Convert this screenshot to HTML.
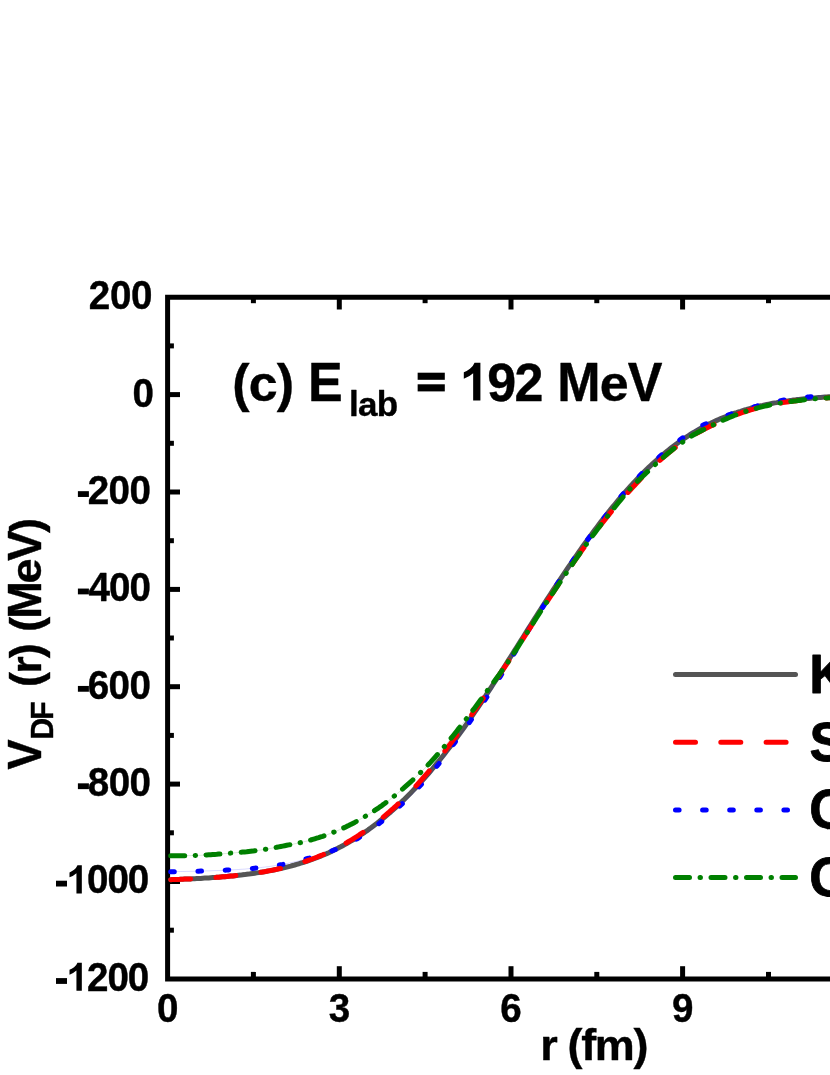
<!DOCTYPE html>
<html><head><meta charset="utf-8"><title>chart</title>
<style>html,body{margin:0;padding:0;background:#fff;}svg{display:block;will-change:transform;}</style></head>
<body>
<svg width="830" height="1075" viewBox="0 0 830 1075">
<rect width="830" height="1075" fill="#fff"/>
<defs><clipPath id="qc"><rect x="-5" y="-60" width="80" height="60.9"/></clipPath></defs>
<g stroke="#000" stroke-width="5" fill="none" stroke-linecap="butt">
<path d="M835 297.3H167.6V978.9H835"/>
<path d="M167.6 394.6H180"/>
<path d="M167.6 492.0H180"/>
<path d="M167.6 589.4H180"/>
<path d="M167.6 686.7H180"/>
<path d="M167.6 784.1H180"/>
<path d="M167.6 881.5H180"/>
<path d="M167.6 345.9H173.9"/>
<path d="M167.6 443.3H173.9"/>
<path d="M167.6 540.7H173.9"/>
<path d="M167.6 638.0H173.9"/>
<path d="M167.6 735.4H173.9"/>
<path d="M167.6 832.8H173.9"/>
<path d="M167.6 930.2H173.9"/>
<path d="M339.3 978.9V966.2"/>
<path d="M339.3 297.3V309.5"/>
<path d="M511.0 978.9V966.2"/>
<path d="M511.0 297.3V309.5"/>
<path d="M682.6 978.9V966.2"/>
<path d="M682.6 297.3V309.5"/>
<path d="M253.4 978.9V971.9"/>
<path d="M253.4 297.3V303.2"/>
<path d="M425.1 978.9V971.9"/>
<path d="M425.1 297.3V303.2"/>
<path d="M596.8 978.9V971.9"/>
<path d="M596.8 297.3V303.2"/>
<path d="M768.5 978.9V971.9"/>
<path d="M768.5 297.3V303.2"/>
</g>
<g fill="none" stroke-width="5" stroke-linecap="round" stroke-linejoin="round">
<polyline stroke="#555555" points="170.7,879.7 172.7,879.6 174.7,879.5 176.7,879.5 178.7,879.4 180.7,879.3 182.7,879.2 184.7,879.1 186.7,879.1 188.7,879.0 190.7,878.9 192.7,878.8 194.7,878.7 196.7,878.6 198.7,878.5 200.7,878.4 202.7,878.2 204.7,878.1 206.7,878.0 208.7,877.9 210.7,877.7 212.7,877.6 214.7,877.5 216.7,877.3 218.7,877.2 220.7,877.0 222.7,876.8 224.7,876.7 226.7,876.5 228.7,876.3 230.7,876.1 232.7,875.9 234.7,875.7 236.7,875.5 238.7,875.3 240.7,875.1 242.7,874.8 244.7,874.6 246.7,874.3 248.7,874.1 250.7,873.8 252.7,873.5 254.7,873.2 256.7,872.9 258.7,872.6 260.7,872.3 262.7,872.0 264.7,871.7 266.7,871.3 268.7,870.9 270.7,870.6 272.7,870.2 274.7,869.8 276.7,869.4 278.7,868.9 280.7,868.5 282.7,868.0 284.7,867.6 286.7,867.1 288.7,866.6 290.7,866.1 292.7,865.5 294.7,865.0 296.7,864.4 298.7,863.8 300.7,863.2 302.7,862.6 304.7,862.0 306.7,861.3 308.7,860.6 310.7,859.9 312.7,859.2 314.7,858.5 316.7,857.7 318.7,856.9 320.7,856.1 322.7,855.3 324.7,854.4 326.7,853.6 328.7,852.7 330.7,851.7 332.7,850.8 334.7,849.8 336.7,848.9 338.7,847.8 340.7,846.8 342.7,845.7 344.7,844.6 346.7,843.5 348.7,842.4 350.7,841.2 352.7,840.0 354.7,838.8 356.7,837.5 358.7,836.3 360.7,834.9 362.7,833.6 364.7,832.3 366.7,830.9 368.7,829.4 370.7,828.0 372.7,826.5 374.7,825.0 376.7,823.5 378.7,821.9 380.7,820.3 382.7,818.7 384.7,817.1 386.7,815.4 388.7,813.7 390.7,812.0 392.7,810.2 394.7,808.4 396.7,806.6 398.7,804.7 400.7,802.8 402.7,800.9 404.7,799.0 406.7,797.0 408.7,795.0 410.7,793.0 412.7,790.9 414.7,788.8 416.7,786.7 418.7,784.5 420.7,782.3 422.7,780.1 424.7,777.8 426.7,775.6 428.7,773.3 430.7,770.9 432.7,768.5 434.7,766.1 436.7,763.7 438.7,761.3 440.7,758.8 442.7,756.2 444.7,753.7 446.7,751.1 448.7,748.5 450.7,745.9 452.7,743.2 454.7,740.5 456.7,737.8 458.7,735.1 460.7,732.3 462.7,729.5 464.7,726.7 466.7,723.8 468.7,721.0 470.7,718.1 472.7,715.2 474.7,712.2 476.7,709.3 478.7,706.3 480.7,703.3 482.7,700.3 484.7,697.3 486.7,694.2 488.7,691.2 490.7,688.1 492.7,685.0 494.7,681.9 496.7,678.8 498.7,675.7 500.7,672.5 502.7,669.4 504.7,666.2 506.7,663.1 508.7,659.9 510.7,656.7 512.7,653.6 514.7,650.4 516.7,647.2 518.7,644.0 520.7,640.9 522.7,637.7 524.7,634.5 526.7,631.3 528.7,628.2 530.7,625.0 532.7,621.8 534.7,618.7 536.7,615.5 538.7,612.4 540.7,609.3 542.7,606.2 544.7,603.0 546.7,599.9 548.7,596.9 550.7,593.8 552.7,590.7 554.7,587.7 556.7,584.6 558.7,581.6 560.7,578.6 562.7,575.6 564.7,572.6 566.7,569.6 568.7,566.7 570.7,563.8 572.7,560.8 574.7,557.9 576.7,555.1 578.7,552.2 580.7,549.4 582.7,546.5 584.7,543.7 586.7,541.0 588.7,538.2 590.7,535.5 592.7,532.8 594.7,530.1 596.7,527.4 598.7,524.7 600.7,522.1 602.7,519.5 604.7,517.0 606.7,514.4 608.7,511.9 610.7,509.4 612.7,506.9 614.7,504.5 616.7,502.1 618.7,499.7 620.7,497.3 622.7,495.0 624.7,492.7 626.7,490.4 628.7,488.2 630.7,485.9 632.7,483.8 634.7,481.6 636.7,479.5 638.7,477.4 640.7,475.3 642.7,473.3 644.7,471.3 646.7,469.3 648.7,467.4 650.7,465.5 652.7,463.6 654.7,461.8 656.7,460.0 658.7,458.2 660.7,456.5 662.7,454.8 664.7,453.1 666.7,451.5 668.7,449.9 670.7,448.3 672.7,446.7 674.7,445.2 676.7,443.7 678.7,442.3 680.7,440.9 682.7,439.5 684.7,438.1 686.7,436.8 688.7,435.5 690.7,434.2 692.7,433.0 694.7,431.8 696.7,430.6 698.7,429.5 700.7,428.3 702.7,427.3 704.7,426.2 706.7,425.1 708.7,424.1 710.7,423.2 712.7,422.2 714.7,421.3 716.7,420.4 718.7,419.5 720.7,418.6 722.7,417.8 724.7,417.0 726.7,416.2 728.7,415.4 730.7,414.7 732.7,413.9 734.7,413.2 736.7,412.6 738.7,411.9 740.7,411.3 742.7,410.6 744.7,410.0 746.7,409.5 748.7,408.9 750.7,408.3 752.7,407.8 754.7,407.3 756.7,406.8 758.7,406.3 760.7,405.8 762.7,405.4 764.7,404.9 766.7,404.5 768.7,404.1 770.7,403.7 772.7,403.3 774.7,402.9 776.7,402.6 778.7,402.2 780.7,401.9 782.7,401.6 784.7,401.2 786.7,400.9 788.7,400.7 790.7,400.4 792.7,400.1 794.7,399.9 796.7,399.6 798.7,399.4 800.7,399.2 802.7,399.0 804.7,398.8 806.7,398.6 808.7,398.4 810.7,398.2 812.7,398.0 814.7,397.9 816.7,397.7 818.7,397.5 820.7,397.4 822.7,397.2 824.7,397.1 826.7,397.0 828.7,396.8 830.7,396.7 832.7,396.6 834.7,396.4 836.7,396.3 838.7,396.2 840.7,396.1 842.7,396.0 844.7,395.9"/>
<polyline stroke="#0000ff" stroke-width="0.5" stroke-opacity="0.3" points="170.7,871.7 172.7,871.7 174.7,871.7 176.7,871.6 178.7,871.6 180.7,871.5 182.7,871.5 184.7,871.5 186.7,871.4 188.7,871.4 190.7,871.3 192.7,871.3 194.7,871.3 196.7,871.2 198.7,871.2 200.7,871.1 202.7,871.0 204.7,871.0 206.7,870.9 208.7,870.9 210.7,870.8 212.7,870.7 214.7,870.6 216.7,870.6 218.7,870.5 220.7,870.4 222.7,870.3 224.7,870.2 226.7,870.1 228.7,870.0 230.7,869.9 232.7,869.8 234.7,869.7 236.7,869.6 238.7,869.5 240.7,869.3 242.7,869.2 244.7,869.1 246.7,868.9 248.7,868.7 250.7,868.6 252.7,868.4 254.7,868.2 256.7,868.0 258.7,867.8 260.7,867.6 262.7,867.3 264.7,867.1 266.7,866.8 268.7,866.6 270.7,866.3 272.7,866.0 274.7,865.7 276.7,865.4 278.7,865.1 280.7,864.7 282.7,864.4 284.7,864.0 286.7,863.6 288.7,863.2 290.7,862.7 292.7,862.3 294.7,861.8 296.7,861.4 298.7,860.9 300.7,860.4 302.7,859.9 304.7,859.3 306.7,858.8 308.7,858.3 310.7,857.7 312.7,857.1 314.7,856.6 316.7,856.0 318.7,855.4 320.7,854.8 322.7,854.2 324.7,853.5 326.7,852.8 328.7,852.1 330.7,851.4 332.7,850.6 334.7,849.8 336.7,849.0 338.7,848.1 340.7,847.2 342.7,846.3 344.7,845.4 346.7,844.4 348.7,843.4 350.7,842.4 352.7,841.3 354.7,840.2 356.7,839.0 358.7,837.8 360.7,836.5 362.7,835.3 364.7,833.9 366.7,832.6 368.7,831.2 370.7,829.8 372.7,828.3 374.7,826.9 376.7,825.4 378.7,823.8 380.7,822.3 382.7,820.7 384.7,819.1 386.7,817.5 388.7,815.8 390.7,814.1 392.7,812.4 394.7,810.6 396.7,808.8 398.7,807.0 400.7,805.2 402.7,803.3 404.7,801.5 406.7,799.6 408.7,797.6 410.7,795.6 412.7,793.6 414.7,791.6 416.7,789.5 418.7,787.3 420.7,785.1 422.7,782.9 424.7,780.6 426.7,778.4 428.7,776.1 430.7,773.7 432.7,771.3 434.7,768.9 436.7,766.5 438.7,764.0 440.7,761.4 442.7,758.8 444.7,756.1 446.7,753.5 448.7,750.8 450.7,748.1 452.7,745.4 454.7,742.7 456.7,740.0 458.7,737.3 460.7,734.6 462.7,731.8 464.7,729.0 466.7,726.2 468.7,723.4 470.7,720.6 472.7,717.7 474.7,714.9 476.7,712.1 478.7,709.2 480.7,706.3 482.7,703.4 484.7,700.4 486.7,697.4 488.7,694.4 490.7,691.3 492.7,688.3 494.7,685.2 496.7,682.1 498.7,678.9 500.7,675.8 502.7,672.6 504.7,669.3 506.7,666.0 508.7,662.7 510.7,659.4 512.7,656.1 514.7,652.7 516.7,649.4 518.7,646.1 520.7,642.8 522.7,639.6 524.7,636.3 526.7,633.0 528.7,629.8 530.7,626.6 532.7,623.3 534.7,620.1 536.7,616.9 538.7,613.7 540.7,610.5 542.7,607.3 544.7,604.1 546.7,600.9 548.7,597.7 550.7,594.4 552.7,591.2 554.7,588.1 556.7,584.9 558.7,581.8 560.7,578.7 562.7,575.6 564.7,572.6 566.7,569.6 568.7,566.7 570.7,563.8 572.7,560.8 574.7,557.9 576.7,555.1 578.7,552.2 580.7,549.4 582.7,546.5 584.7,543.7 586.7,541.0 588.7,538.2 590.7,535.5 592.7,532.8 594.7,530.1 596.7,527.4 598.7,524.7 600.7,522.1 602.7,519.5 604.7,516.9 606.7,514.3 608.7,511.7 610.7,509.1 612.7,506.5 614.7,504.0 616.7,501.6 618.7,499.2 620.7,496.8 622.7,494.4 624.7,492.1 626.7,489.8 628.7,487.6 630.7,485.4 632.7,483.2 634.7,481.0 636.7,478.9 638.7,476.8 640.7,474.7 642.7,472.7 644.7,470.7 646.7,468.7 648.7,466.7 650.7,464.8 652.7,463.0 654.7,461.1 656.7,459.3 658.7,457.4 660.7,455.6 662.7,453.9 664.7,452.1 666.7,450.4 668.7,448.6 670.7,447.0 672.7,445.3 674.7,443.8 676.7,442.2 678.7,440.7 680.7,439.2 682.7,437.8 684.7,436.4 686.7,435.0 688.7,433.7 690.7,432.3 692.7,431.1 694.7,429.8 696.7,428.6 698.7,427.5 700.7,426.4 702.7,425.3 704.7,424.4 706.7,423.6 708.7,422.8 710.7,422.1 712.7,421.3 714.7,420.5 716.7,419.6 718.7,418.7 720.7,417.9 722.7,417.1 724.7,416.3 726.7,415.6 728.7,414.8 730.7,414.1 732.7,413.3 734.7,412.6 736.7,412.0 738.7,411.3 740.7,410.7 742.7,410.0 744.7,409.4 746.7,408.9 748.7,408.3 750.7,407.7 752.7,407.2 754.7,406.6 756.7,406.1 758.7,405.5 760.7,405.0 762.7,404.5 764.7,404.0 766.7,403.5 768.7,403.1 770.7,402.6 772.7,402.2 774.7,401.8 776.7,401.4 778.7,401.0 780.7,400.6 782.7,400.3 784.7,400.0 786.7,399.6 788.7,399.3 790.7,399.0 792.7,398.7 794.7,398.5 796.7,398.2 798.7,398.0 800.7,397.7 802.7,397.5 804.7,397.3 806.7,397.1 808.7,396.9 810.7,396.7 812.7,396.5 814.7,396.4 816.7,396.2 818.7,396.0 820.7,395.9 822.7,395.7 824.7,395.6 826.7,395.5 828.7,395.3 830.7,395.2 832.7,395.1 834.7,394.9 836.7,394.8 838.7,394.7 840.7,394.6 842.7,394.5 844.7,394.4"/>
<polyline stroke="#008000" stroke-width="0.5" stroke-opacity="0.3" points="170.7,855.8 172.7,855.8 174.7,855.8 176.7,855.7 178.7,855.7 180.7,855.7 182.7,855.7 184.7,855.7 186.7,855.6 188.7,855.6 190.7,855.6 192.7,855.5 194.7,855.5 196.7,855.4 198.7,855.4 200.7,855.3 202.7,855.2 204.7,855.0 206.7,854.9 208.7,854.8 210.7,854.7 212.7,854.5 214.7,854.4 216.7,854.3 218.7,854.1 220.7,854.0 222.7,853.8 224.7,853.6 226.7,853.5 228.7,853.3 230.7,853.1 232.7,853.0 234.7,852.8 236.7,852.6 238.7,852.5 240.7,852.3 242.7,852.1 244.7,851.9 246.7,851.8 248.7,851.5 250.7,851.3 252.7,851.1 254.7,850.8 256.7,850.6 258.7,850.3 260.7,850.0 262.7,849.7 264.7,849.4 266.7,849.1 268.7,848.7 270.7,848.4 272.7,848.0 274.7,847.7 276.7,847.3 278.7,846.9 280.7,846.5 282.7,846.1 284.7,845.7 286.7,845.3 288.7,844.9 290.7,844.6 292.7,844.2 294.7,843.8 296.7,843.4 298.7,843.0 300.7,842.6 302.7,842.1 304.7,841.6 306.7,841.1 308.7,840.6 310.7,840.0 312.7,839.4 314.7,838.8 316.7,838.2 318.7,837.6 320.7,836.9 322.7,836.3 324.7,835.6 326.7,834.9 328.7,834.1 330.7,833.4 332.7,832.6 334.7,831.8 336.7,831.0 338.7,830.1 340.7,829.2 342.7,828.3 344.7,827.4 346.7,826.4 348.7,825.5 350.7,824.4 352.7,823.4 354.7,822.4 356.7,821.3 358.7,820.2 360.7,819.0 362.7,817.9 364.7,816.7 366.7,815.5 368.7,814.3 370.7,813.0 372.7,811.7 374.7,810.4 376.7,809.1 378.7,807.8 380.7,806.4 382.7,804.9 384.7,803.5 386.7,802.0 388.7,800.5 390.7,798.9 392.7,797.3 394.7,795.7 396.7,794.1 398.7,792.4 400.7,790.7 402.7,789.0 404.7,787.2 406.7,785.4 408.7,783.6 410.7,781.8 412.7,780.0 414.7,778.1 416.7,776.2 418.7,774.3 420.7,772.4 422.7,770.4 424.7,768.4 426.7,766.3 428.7,764.2 430.7,762.1 432.7,759.9 434.7,757.7 436.7,755.4 438.7,753.2 440.7,750.8 442.7,748.5 444.7,746.1 446.7,743.7 448.7,741.2 450.7,738.7 452.7,736.2 454.7,733.7 456.7,731.2 458.7,728.6 460.7,726.1 462.7,723.5 464.7,721.0 466.7,718.4 468.7,715.8 470.7,713.2 472.7,710.5 474.7,707.9 476.7,705.2 478.7,702.5 480.7,699.8 482.7,697.1 484.7,694.3 486.7,691.5 488.7,688.7 490.7,686.0 492.7,683.4 494.7,680.8 496.7,678.1 498.7,675.4 500.7,672.6 502.7,669.7 504.7,666.9 506.7,663.9 508.7,661.0 510.7,658.0 512.7,655.0 514.7,651.9 516.7,648.8 518.7,645.6 520.7,642.5 522.7,639.4 524.7,636.3 526.7,633.1 528.7,630.0 530.7,626.8 532.7,623.7 534.7,620.6 536.7,617.5 538.7,614.4 540.7,611.3 542.7,608.2 544.7,605.2 546.7,602.1 548.7,599.1 550.7,596.1 552.7,593.1 554.7,590.1 556.7,587.2 558.7,584.2 560.7,581.2 562.7,578.3 564.7,575.3 566.7,572.4 568.7,569.5 570.7,566.6 572.7,563.6 574.7,560.7 576.7,557.9 578.7,555.0 580.7,552.2 582.7,549.3 584.7,546.5 586.7,543.8 588.7,541.0 590.7,538.3 592.7,535.6 594.7,532.9 596.7,530.2 598.7,527.5 600.7,524.9 602.7,522.3 604.7,519.8 606.7,517.2 608.7,514.7 610.7,512.2 612.7,509.7 614.7,507.2 616.7,504.7 618.7,502.2 620.7,499.8 622.7,497.4 624.7,495.0 626.7,492.6 628.7,490.4 630.7,488.1 632.7,486.0 634.7,484.0 636.7,482.0 638.7,480.1 640.7,478.2 642.7,476.3 644.7,474.4 646.7,472.5 648.7,470.6 650.7,468.7 652.7,466.8 654.7,465.0 656.7,463.1 658.7,461.3 660.7,459.5 662.7,457.8 664.7,456.1 666.7,454.4 668.7,452.7 670.7,451.1 672.7,449.5 674.7,447.9 676.7,446.4 678.7,444.9 680.7,443.4 682.7,442.0 684.7,440.5 686.7,439.1 688.7,437.8 690.7,436.5 692.7,435.3 694.7,434.2 696.7,433.1 698.7,432.1 700.7,431.1 702.7,430.1 704.7,429.1 706.7,428.1 708.7,427.1 710.7,426.1 712.7,425.1 714.7,424.2 716.7,423.2 718.7,422.2 720.7,421.3 722.7,420.4 724.7,419.5 726.7,418.6 728.7,417.7 730.7,416.9 732.7,416.1 734.7,415.3 736.7,414.5 738.7,413.8 740.7,413.1 742.7,412.4 744.7,411.8 746.7,411.1 748.7,410.5 750.7,409.9 752.7,409.3 754.7,408.7 756.7,408.2 758.7,407.6 760.7,407.1 762.7,406.6 764.7,406.1 766.7,405.7 768.7,405.2 770.7,404.8 772.7,404.4 774.7,404.0 776.7,403.7 778.7,403.3 780.7,403.0 782.7,402.6 784.7,402.3 786.7,402.0 788.7,401.7 790.7,401.4 792.7,401.2 794.7,400.9 796.7,400.7 798.7,400.4 800.7,400.2 802.7,400.0 804.7,399.8 806.7,399.6 808.7,399.4 810.7,399.2 812.7,399.0 814.7,398.8 816.7,398.7 818.7,398.5 820.7,398.4 822.7,398.2 824.7,398.0 826.7,397.9 828.7,397.7 830.7,397.6 832.7,397.5 834.7,397.3 836.7,397.2 838.7,397.1 840.7,397.0 842.7,396.8 844.7,396.7"/>
<polyline stroke="#0000ff" stroke-dasharray="3.6 23.65" points="170.7,871.7 172.7,871.7 174.7,871.7 176.7,871.6 178.7,871.6 180.7,871.5 182.7,871.5 184.7,871.5 186.7,871.4 188.7,871.4 190.7,871.3 192.7,871.3 194.7,871.3 196.7,871.2 198.7,871.2 200.7,871.1 202.7,871.0 204.7,871.0 206.7,870.9 208.7,870.9 210.7,870.8 212.7,870.7 214.7,870.6 216.7,870.6 218.7,870.5 220.7,870.4 222.7,870.3 224.7,870.2 226.7,870.1 228.7,870.0 230.7,869.9 232.7,869.8 234.7,869.7 236.7,869.6 238.7,869.5 240.7,869.3 242.7,869.2 244.7,869.1 246.7,868.9 248.7,868.7 250.7,868.6 252.7,868.4 254.7,868.2 256.7,868.0 258.7,867.8 260.7,867.6 262.7,867.3 264.7,867.1 266.7,866.8 268.7,866.6 270.7,866.3 272.7,866.0 274.7,865.7 276.7,865.4 278.7,865.1 280.7,864.7 282.7,864.4 284.7,864.0 286.7,863.6 288.7,863.2 290.7,862.7 292.7,862.3 294.7,861.8 296.7,861.4 298.7,860.9 300.7,860.4 302.7,859.9 304.7,859.3 306.7,858.8 308.7,858.3 310.7,857.7 312.7,857.1 314.7,856.6 316.7,856.0 318.7,855.4 320.7,854.8 322.7,854.2 324.7,853.5 326.7,852.8 328.7,852.1 330.7,851.4 332.7,850.6 334.7,849.8 336.7,849.0 338.7,848.1 340.7,847.2 342.7,846.3 344.7,845.4 346.7,844.4 348.7,843.4 350.7,842.4 352.7,841.3 354.7,840.2 356.7,839.0 358.7,837.8 360.7,836.5 362.7,835.3 364.7,833.9 366.7,832.6 368.7,831.2 370.7,829.8 372.7,828.3 374.7,826.9 376.7,825.4 378.7,823.8 380.7,822.3 382.7,820.7 384.7,819.1 386.7,817.5 388.7,815.8 390.7,814.1 392.7,812.4 394.7,810.6 396.7,808.8 398.7,807.0 400.7,805.2 402.7,803.3 404.7,801.5 406.7,799.6 408.7,797.6 410.7,795.6 412.7,793.6 414.7,791.6 416.7,789.5 418.7,787.3 420.7,785.1 422.7,782.9 424.7,780.6 426.7,778.4 428.7,776.1 430.7,773.7 432.7,771.3 434.7,768.9 436.7,766.5 438.7,764.0 440.7,761.4 442.7,758.8 444.7,756.1 446.7,753.5 448.7,750.8 450.7,748.1 452.7,745.4 454.7,742.7 456.7,740.0 458.7,737.3 460.7,734.6 462.7,731.8 464.7,729.0 466.7,726.2 468.7,723.4 470.7,720.6 472.7,717.7 474.7,714.9 476.7,712.1 478.7,709.2 480.7,706.3 482.7,703.4 484.7,700.4 486.7,697.4 488.7,694.4 490.7,691.3 492.7,688.3 494.7,685.2 496.7,682.1 498.7,678.9 500.7,675.8 502.7,672.6 504.7,669.3 506.7,666.0 508.7,662.7 510.7,659.4 512.7,656.1 514.7,652.7 516.7,649.4 518.7,646.1 520.7,642.8 522.7,639.6 524.7,636.3 526.7,633.0 528.7,629.8 530.7,626.6 532.7,623.3 534.7,620.1 536.7,616.9 538.7,613.7 540.7,610.5 542.7,607.3 544.7,604.1 546.7,600.9 548.7,597.7 550.7,594.4 552.7,591.2 554.7,588.1 556.7,584.9 558.7,581.8 560.7,578.7 562.7,575.6 564.7,572.6 566.7,569.6 568.7,566.7 570.7,563.8 572.7,560.8 574.7,557.9 576.7,555.1 578.7,552.2 580.7,549.4 582.7,546.5 584.7,543.7 586.7,541.0 588.7,538.2 590.7,535.5 592.7,532.8 594.7,530.1 596.7,527.4 598.7,524.7 600.7,522.1 602.7,519.5 604.7,516.9 606.7,514.3 608.7,511.7 610.7,509.1 612.7,506.5 614.7,504.0 616.7,501.6 618.7,499.2 620.7,496.8 622.7,494.4 624.7,492.1 626.7,489.8 628.7,487.6 630.7,485.4 632.7,483.2 634.7,481.0 636.7,478.9 638.7,476.8 640.7,474.7 642.7,472.7 644.7,470.7 646.7,468.7 648.7,466.7 650.7,464.8 652.7,463.0 654.7,461.1 656.7,459.3 658.7,457.4 660.7,455.6 662.7,453.9 664.7,452.1 666.7,450.4 668.7,448.6 670.7,447.0 672.7,445.3 674.7,443.8 676.7,442.2 678.7,440.7 680.7,439.2 682.7,437.8 684.7,436.4 686.7,435.0 688.7,433.7 690.7,432.3 692.7,431.1 694.7,429.8 696.7,428.6 698.7,427.5 700.7,426.4 702.7,425.3 704.7,424.4 706.7,423.6 708.7,422.8 710.7,422.1 712.7,421.3 714.7,420.5 716.7,419.6 718.7,418.7 720.7,417.9 722.7,417.1 724.7,416.3 726.7,415.6 728.7,414.8 730.7,414.1 732.7,413.3 734.7,412.6 736.7,412.0 738.7,411.3 740.7,410.7 742.7,410.0 744.7,409.4 746.7,408.9 748.7,408.3 750.7,407.7 752.7,407.2 754.7,406.6 756.7,406.1 758.7,405.5 760.7,405.0 762.7,404.5 764.7,404.0 766.7,403.5 768.7,403.1 770.7,402.6 772.7,402.2 774.7,401.8 776.7,401.4 778.7,401.0 780.7,400.6 782.7,400.3 784.7,400.0 786.7,399.6 788.7,399.3 790.7,399.0 792.7,398.7 794.7,398.5 796.7,398.2 798.7,398.0 800.7,397.7 802.7,397.5 804.7,397.3 806.7,397.1 808.7,396.9 810.7,396.7 812.7,396.5 814.7,396.4 816.7,396.2 818.7,396.0 820.7,395.9 822.7,395.7 824.7,395.6 826.7,395.5 828.7,395.3 830.7,395.2 832.7,395.1 834.7,394.9 836.7,394.8 838.7,394.7 840.7,394.6 842.7,394.5 844.7,394.4"/>
<polyline stroke="#ff0000" stroke-dasharray="20 25.3" points="170.7,879.7 172.7,879.6 174.7,879.5 176.7,879.5 178.7,879.4 180.7,879.3 182.7,879.2 184.7,879.1 186.7,879.1 188.7,879.0 190.7,878.9 192.7,878.8 194.7,878.7 196.7,878.6 198.7,878.5 200.7,878.4 202.7,878.2 204.7,878.1 206.7,878.0 208.7,877.9 210.7,877.7 212.7,877.6 214.7,877.5 216.7,877.3 218.7,877.2 220.7,877.0 222.7,876.8 224.7,876.7 226.7,876.5 228.7,876.3 230.7,876.1 232.7,875.9 234.7,875.7 236.7,875.5 238.7,875.3 240.7,875.1 242.7,874.8 244.7,874.6 246.7,874.3 248.7,874.1 250.7,873.8 252.7,873.5 254.7,873.2 256.7,872.9 258.7,872.6 260.7,872.3 262.7,872.0 264.7,871.6 266.7,871.3 268.7,870.9 270.7,870.5 272.7,870.1 274.7,869.7 276.7,869.3 278.7,868.8 280.7,868.4 282.7,867.9 284.7,867.4 286.7,866.9 288.7,866.4 290.7,865.8 292.7,865.3 294.7,864.7 296.7,864.1 298.7,863.5 300.7,862.9 302.7,862.3 304.7,861.6 306.7,860.9 308.7,860.2 310.7,859.5 312.7,858.8 314.7,858.0 316.7,857.2 318.7,856.4 320.7,855.6 322.7,854.8 324.7,853.9 326.7,853.0 328.7,852.1 330.7,851.1 332.7,850.2 334.7,849.2 336.7,848.1 338.7,847.1 340.7,846.0 342.7,844.9 344.7,843.8 346.7,842.7 348.7,841.5 350.7,840.3 352.7,839.1 354.7,837.8 356.7,836.6 358.7,835.3 360.7,833.9 362.7,832.6 364.7,831.2 366.7,829.8 368.7,828.4 370.7,826.9 372.7,825.4 374.7,823.9 376.7,822.4 378.7,820.8 380.7,819.2 382.7,817.6 384.7,815.9 386.7,814.2 388.7,812.5 390.7,810.7 392.7,809.0 394.7,807.1 396.7,805.3 398.7,803.4 400.7,801.5 402.7,799.6 404.7,797.6 406.7,795.7 408.7,793.6 410.7,791.6 412.7,789.5 414.7,787.4 416.7,785.2 418.7,783.0 420.7,780.8 422.7,778.5 424.7,776.2 426.7,773.9 428.7,771.5 430.7,769.1 432.7,766.6 434.7,764.1 436.7,761.6 438.7,759.0 440.7,756.5 442.7,753.9 444.7,751.3 446.7,748.6 448.7,746.0 450.7,743.4 452.7,740.7 454.7,738.1 456.7,735.4 458.7,732.7 460.7,729.9 462.7,727.2 464.7,724.5 466.7,721.7 468.7,718.9 470.7,716.1 472.7,713.3 474.7,710.4 476.7,707.6 478.7,704.7 480.7,701.9 482.7,699.0 484.7,696.2 486.7,693.4 488.7,690.5 490.7,687.7 492.7,684.8 494.7,681.9 496.7,678.9 498.7,676.0 500.7,673.0 502.7,670.1 504.7,667.1 506.7,664.1 508.7,661.1 510.7,658.0 512.7,655.0 514.7,651.9 516.7,648.8 518.7,645.6 520.7,642.5 522.7,639.4 524.7,636.2 526.7,633.1 528.7,630.0 530.7,626.8 532.7,623.7 534.7,620.6 536.7,617.5 538.7,614.4 540.7,611.3 542.7,608.2 544.7,605.2 546.7,602.1 548.7,599.1 550.7,596.1 552.7,593.1 554.7,590.1 556.7,587.1 558.7,584.2 560.7,581.2 562.7,578.3 564.7,575.3 566.7,572.4 568.7,569.5 570.7,566.6 572.7,563.7 574.7,560.8 576.7,557.9 578.7,555.1 580.7,552.2 582.7,549.4 584.7,546.6 586.7,543.9 588.7,541.1 590.7,538.4 592.7,535.7 594.7,533.0 596.7,530.3 598.7,527.7 600.7,525.1 602.7,522.5 604.7,519.9 606.7,517.4 608.7,514.9 610.7,512.4 612.7,510.0 614.7,507.5 616.7,505.2 618.7,502.9 620.7,500.6 622.7,498.3 624.7,496.1 626.7,493.8 628.7,491.7 630.7,489.5 632.7,487.3 634.7,485.2 636.7,483.1 638.7,481.0 640.7,478.9 642.7,476.8 644.7,474.8 646.7,472.8 648.7,470.8 650.7,468.9 652.7,467.0 654.7,465.1 656.7,463.3 658.7,461.4 660.7,459.7 662.7,457.9 664.7,456.2 666.7,454.5 668.7,452.8 670.7,451.2 672.7,449.6 674.7,448.0 676.7,446.5 678.7,445.0 680.7,443.5 682.7,442.1 684.7,440.7 686.7,439.3 688.7,438.0 690.7,436.7 692.7,435.5 694.7,434.4 696.7,433.3 698.7,432.2 700.7,431.2 702.7,430.1 704.7,429.1 706.7,428.1 708.7,427.1 710.7,426.1 712.7,425.1 714.7,424.2 716.7,423.2 718.7,422.2 720.7,421.3 722.7,420.4 724.7,419.5 726.7,418.6 728.7,417.7 730.7,416.9 732.7,416.1 734.7,415.3 736.7,414.5 738.7,413.8 740.7,413.1 742.7,412.4 744.7,411.8 746.7,411.1 748.7,410.5 750.7,409.9 752.7,409.3 754.7,408.7 756.7,408.2 758.7,407.6 760.7,407.1 762.7,406.6 764.7,406.1 766.7,405.7 768.7,405.2 770.7,404.8 772.7,404.4 774.7,404.0 776.7,403.7 778.7,403.3 780.7,403.0 782.7,402.6 784.7,402.3 786.7,402.0 788.7,401.7 790.7,401.4 792.7,401.2 794.7,400.9 796.7,400.7 798.7,400.4 800.7,400.2 802.7,400.0 804.7,399.8 806.7,399.6 808.7,399.4 810.7,399.2 812.7,399.0 814.7,398.8 816.7,398.7 818.7,398.5 820.7,398.4 822.7,398.2 824.7,398.0 826.7,397.9 828.7,397.7 830.7,397.6 832.7,397.5 834.7,397.3 836.7,397.2 838.7,397.1 840.7,397.0 842.7,396.8 844.7,396.7"/>
<polyline stroke="#008000" stroke-dasharray="14 10.45 0.4 10.45" points="170.7,855.8 172.7,855.8 174.7,855.8 176.7,855.7 178.7,855.7 180.7,855.7 182.7,855.7 184.7,855.7 186.7,855.6 188.7,855.6 190.7,855.6 192.7,855.5 194.7,855.5 196.7,855.4 198.7,855.4 200.7,855.3 202.7,855.2 204.7,855.0 206.7,854.9 208.7,854.8 210.7,854.7 212.7,854.5 214.7,854.4 216.7,854.3 218.7,854.1 220.7,854.0 222.7,853.8 224.7,853.6 226.7,853.5 228.7,853.3 230.7,853.1 232.7,853.0 234.7,852.8 236.7,852.6 238.7,852.5 240.7,852.3 242.7,852.1 244.7,851.9 246.7,851.8 248.7,851.5 250.7,851.3 252.7,851.1 254.7,850.8 256.7,850.6 258.7,850.3 260.7,850.0 262.7,849.7 264.7,849.4 266.7,849.1 268.7,848.7 270.7,848.4 272.7,848.0 274.7,847.7 276.7,847.3 278.7,846.9 280.7,846.5 282.7,846.1 284.7,845.7 286.7,845.3 288.7,844.9 290.7,844.6 292.7,844.2 294.7,843.8 296.7,843.4 298.7,843.0 300.7,842.6 302.7,842.1 304.7,841.6 306.7,841.1 308.7,840.6 310.7,840.0 312.7,839.4 314.7,838.8 316.7,838.2 318.7,837.6 320.7,836.9 322.7,836.3 324.7,835.6 326.7,834.9 328.7,834.1 330.7,833.4 332.7,832.6 334.7,831.8 336.7,831.0 338.7,830.1 340.7,829.2 342.7,828.3 344.7,827.4 346.7,826.4 348.7,825.5 350.7,824.4 352.7,823.4 354.7,822.4 356.7,821.3 358.7,820.2 360.7,819.0 362.7,817.9 364.7,816.7 366.7,815.5 368.7,814.3 370.7,813.0 372.7,811.7 374.7,810.4 376.7,809.1 378.7,807.8 380.7,806.4 382.7,804.9 384.7,803.5 386.7,802.0 388.7,800.5 390.7,798.9 392.7,797.3 394.7,795.7 396.7,794.1 398.7,792.4 400.7,790.7 402.7,789.0 404.7,787.2 406.7,785.4 408.7,783.6 410.7,781.8 412.7,780.0 414.7,778.1 416.7,776.2 418.7,774.3 420.7,772.4 422.7,770.4 424.7,768.4 426.7,766.3 428.7,764.2 430.7,762.1 432.7,759.9 434.7,757.7 436.7,755.4 438.7,753.2 440.7,750.8 442.7,748.5 444.7,746.1 446.7,743.7 448.7,741.2 450.7,738.7 452.7,736.2 454.7,733.7 456.7,731.2 458.7,728.6 460.7,726.1 462.7,723.5 464.7,721.0 466.7,718.4 468.7,715.8 470.7,713.2 472.7,710.5 474.7,707.9 476.7,705.2 478.7,702.5 480.7,699.8 482.7,697.1 484.7,694.3 486.7,691.5 488.7,688.7 490.7,686.0 492.7,683.4 494.7,680.8 496.7,678.1 498.7,675.4 500.7,672.6 502.7,669.7 504.7,666.9 506.7,663.9 508.7,661.0 510.7,658.0 512.7,655.0 514.7,651.9 516.7,648.8 518.7,645.6 520.7,642.5 522.7,639.4 524.7,636.3 526.7,633.1 528.7,630.0 530.7,626.8 532.7,623.7 534.7,620.6 536.7,617.5 538.7,614.4 540.7,611.3 542.7,608.2 544.7,605.2 546.7,602.1 548.7,599.1 550.7,596.1 552.7,593.1 554.7,590.1 556.7,587.2 558.7,584.2 560.7,581.2 562.7,578.3 564.7,575.3 566.7,572.4 568.7,569.5 570.7,566.6 572.7,563.6 574.7,560.7 576.7,557.9 578.7,555.0 580.7,552.2 582.7,549.3 584.7,546.5 586.7,543.8 588.7,541.0 590.7,538.3 592.7,535.6 594.7,532.9 596.7,530.2 598.7,527.5 600.7,524.9 602.7,522.3 604.7,519.8 606.7,517.2 608.7,514.7 610.7,512.2 612.7,509.7 614.7,507.2 616.7,504.7 618.7,502.2 620.7,499.8 622.7,497.4 624.7,495.0 626.7,492.6 628.7,490.4 630.7,488.1 632.7,486.0 634.7,484.0 636.7,482.0 638.7,480.1 640.7,478.2 642.7,476.3 644.7,474.4 646.7,472.5 648.7,470.6 650.7,468.7 652.7,466.8 654.7,465.0 656.7,463.1 658.7,461.3 660.7,459.5 662.7,457.8 664.7,456.1 666.7,454.4 668.7,452.7 670.7,451.1 672.7,449.5 674.7,447.9 676.7,446.4 678.7,444.9 680.7,443.4 682.7,442.0 684.7,440.5 686.7,439.1 688.7,437.8 690.7,436.5 692.7,435.3 694.7,434.2 696.7,433.1 698.7,432.1 700.7,431.1 702.7,430.1 704.7,429.1 706.7,428.1 708.7,427.1 710.7,426.1 712.7,425.1 714.7,424.2 716.7,423.2 718.7,422.2 720.7,421.3 722.7,420.4 724.7,419.5 726.7,418.6 728.7,417.7 730.7,416.9 732.7,416.1 734.7,415.3 736.7,414.5 738.7,413.8 740.7,413.1 742.7,412.4 744.7,411.8 746.7,411.1 748.7,410.5 750.7,409.9 752.7,409.3 754.7,408.7 756.7,408.2 758.7,407.6 760.7,407.1 762.7,406.6 764.7,406.1 766.7,405.7 768.7,405.2 770.7,404.8 772.7,404.4 774.7,404.0 776.7,403.7 778.7,403.3 780.7,403.0 782.7,402.6 784.7,402.3 786.7,402.0 788.7,401.7 790.7,401.4 792.7,401.2 794.7,400.9 796.7,400.7 798.7,400.4 800.7,400.2 802.7,400.0 804.7,399.8 806.7,399.6 808.7,399.4 810.7,399.2 812.7,399.0 814.7,398.8 816.7,398.7 818.7,398.5 820.7,398.4 822.7,398.2 824.7,398.0 826.7,397.9 828.7,397.7 830.7,397.6 832.7,397.5 834.7,397.3 836.7,397.2 838.7,397.1 840.7,397.0 842.7,396.8 844.7,396.7"/>
</g>
<g fill="none" stroke-width="5" stroke-linecap="round">
<path stroke="#555555" d="M675.5 674.5H795.5"/>
<path stroke="#ff0000" stroke-dasharray="20 25.3" d="M675.5 742.2H795.5"/>
<path stroke="#0000ff" stroke-dasharray="3.6 23.5" d="M675.5 809.9H795.5"/>
<path stroke="#008000" stroke-dasharray="14 10.55 0.4 10.55" d="M675.5 877.6H795.5"/>
</g>
<g font-family="'Liberation Sans', sans-serif" font-weight="bold" fill="#000" stroke="#000" stroke-width="0.4" stroke-linejoin="round">
<text transform="translate(88.86,309.15) scale(1,1.045)" font-size="38.6">2</text>
<text transform="translate(109.89,309.15) scale(1,1.045)" font-size="38.6">0</text>
<text transform="translate(130.92,309.15) scale(1,1.045)" font-size="38.6">0</text>
<text transform="translate(132.57,406.54) scale(1,1.045)" font-size="38.6">0</text>
<rect x="77.90" y="491.17" width="11" height="5.8" stroke="none"/>
<text transform="translate(87.76,503.92) scale(1,1.045)" font-size="38.6">2</text>
<text transform="translate(108.59,503.92) scale(1,1.045)" font-size="38.6">0</text>
<text transform="translate(129.42,503.92) scale(1,1.045)" font-size="38.6">0</text>
<rect x="77.90" y="588.56" width="11" height="5.8" stroke="none"/>
<text transform="translate(88.52,601.31) scale(1,1.045)" font-size="38.6">4</text>
<text transform="translate(108.97,601.31) scale(1,1.045)" font-size="38.6">0</text>
<text transform="translate(129.42,601.31) scale(1,1.045)" font-size="38.6">0</text>
<rect x="77.90" y="685.94" width="11" height="5.8" stroke="none"/>
<text transform="translate(87.69,698.69) scale(1,1.045)" font-size="38.6">6</text>
<text transform="translate(108.55,698.69) scale(1,1.045)" font-size="38.6">0</text>
<text transform="translate(129.42,698.69) scale(1,1.045)" font-size="38.6">0</text>
<rect x="77.90" y="783.33" width="11" height="5.8" stroke="none"/>
<text transform="translate(87.87,796.08) scale(1,1.045)" font-size="38.6">8</text>
<text transform="translate(108.65,796.08) scale(1,1.045)" font-size="38.6">0</text>
<text transform="translate(129.42,796.08) scale(1,1.045)" font-size="38.6">0</text>
<rect x="56.00" y="880.71" width="11" height="5.8" stroke="none"/>
<path transform="translate(66.40,893.46) scale(0.01913,-0.01913)" d="M806 0H525V1059Q371 915 162 846V1101Q272 1137 401 1237.5Q530 1338 578 1472H806Z" stroke="none"/>
<text transform="translate(87.09,893.46) scale(1,1.045)" font-size="38.6">0</text>
<text transform="translate(107.45,893.46) scale(1,1.045)" font-size="38.6">0</text>
<text transform="translate(127.82,893.46) scale(1,1.045)" font-size="38.6">0</text>
<rect x="56.00" y="978.10" width="11" height="5.8" stroke="none"/>
<path transform="translate(66.40,990.85) scale(0.01913,-0.01913)" d="M806 0H525V1059Q371 915 162 846V1101Q272 1137 401 1237.5Q530 1338 578 1472H806Z" stroke="none"/>
<text transform="translate(87.09,990.85) scale(1,1.045)" font-size="38.6">2</text>
<text transform="translate(107.45,990.85) scale(1,1.045)" font-size="38.6">0</text>
<text transform="translate(127.82,990.85) scale(1,1.045)" font-size="38.6">0</text>
<text transform="translate(156.89,1022.40) scale(1,1.045)" font-size="38.6">0</text>
<text transform="translate(328.80,1022.40) scale(1,1.045)" font-size="38.6">3</text>
<text transform="translate(500.22,1022.40) scale(1,1.045)" font-size="38.6">6</text>
<text transform="translate(671.96,1022.40) scale(1,1.045)" font-size="38.6">9</text>
<text transform="translate(540.13,1059.50) scale(1,0.963)" font-size="45">r</text>
<text transform="translate(567.52,1059.50) scale(1,1.0)" font-size="45">(</text>
<text transform="translate(581.19,1059.50) scale(1,0.988)" font-size="45">f</text>
<text transform="translate(594.86,1059.50) scale(1,0.963)" font-size="45">m</text>
<text transform="translate(633.56,1059.50) scale(1,1.0)" font-size="45">)</text>
<text transform="translate(232.21,400.60) scale(1,1.0)" font-size="52">(</text>
<text transform="translate(248.64,400.60) scale(1,0.963)" font-size="52">c</text>
<text transform="translate(276.67,400.60) scale(1,1.0)" font-size="52">)</text>
<text transform="translate(307.92,400.60) scale(1,1.06)" font-size="52">E</text>
<text transform="translate(349.06,415.60) scale(1,0.988)" font-size="35">l</text>
<text transform="translate(358.09,415.60) scale(1,0.963)" font-size="35">a</text>
<text transform="translate(376.86,415.60) scale(1,0.98)" font-size="35">b</text>
<rect x="417.65" y="372.7" width="27.15" height="7.1" stroke="none"/><rect x="417.65" y="384.3" width="27.15" height="7.1" stroke="none"/>
<path transform="translate(459.63,400.60) scale(0.02577,-0.02577)" d="M806 0H525V1059Q371 915 162 846V1101Q272 1137 401 1237.5Q530 1338 578 1472H806Z" stroke="none"/>
<text transform="translate(487.31,400.60) scale(1,1.045)" font-size="52">9</text>
<text transform="translate(514.56,400.60) scale(1,1.045)" font-size="52">2</text>
<text transform="translate(557.22,400.60) scale(1,1.06)" font-size="52">M</text>
<text transform="translate(599.64,400.60) scale(1,0.963)" font-size="52">e</text>
<text transform="translate(627.67,400.60) scale(1,1.06)" font-size="52">V</text>
<text transform="translate(41.20,769.61) rotate(-90) scale(1,1.06)" font-size="45">V</text>
<text transform="translate(53.00,739.41) rotate(-90) scale(1,1.06)" font-size="30">D</text>
<text transform="translate(53.00,719.63) rotate(-90) scale(1,1.06)" font-size="30">F</text>
<text transform="translate(41.20,686.94) rotate(-90) scale(1,1.0)" font-size="45">(</text>
<text transform="translate(41.20,673.81) rotate(-90) scale(1,0.963)" font-size="45">r</text>
<text transform="translate(41.20,658.14) rotate(-90) scale(1,1.0)" font-size="45">)</text>
<text transform="translate(41.20,631.64) rotate(-90) scale(1,1.0)" font-size="45">(</text>
<text transform="translate(41.20,618.86) rotate(-90) scale(1,1.06)" font-size="45">M</text>
<text transform="translate(41.20,583.58) rotate(-90) scale(1,0.963)" font-size="45">e</text>
<text transform="translate(41.20,560.76) rotate(-90) scale(1,1.06)" font-size="45">V</text>
<text transform="translate(41.20,532.94) rotate(-90) scale(1,1.0)" font-size="45">)</text>
<text stroke-width="0.8" transform="translate(809.25,693.00) scale(1,1.06)" font-size="53">K</text>
<text stroke-width="0.8" transform="translate(809.47,760.70) scale(1,1.06)" font-size="53">S</text>
<text clip-path="url(#qc)" stroke-width="0.8" transform="translate(809.23,828.40) scale(1,1.06)" font-size="53">Q</text>
<text clip-path="url(#qc)" stroke-width="0.8" transform="translate(809.23,896.10) scale(1,1.06)" font-size="53">Q</text>
</g>
</svg>
</body></html>
